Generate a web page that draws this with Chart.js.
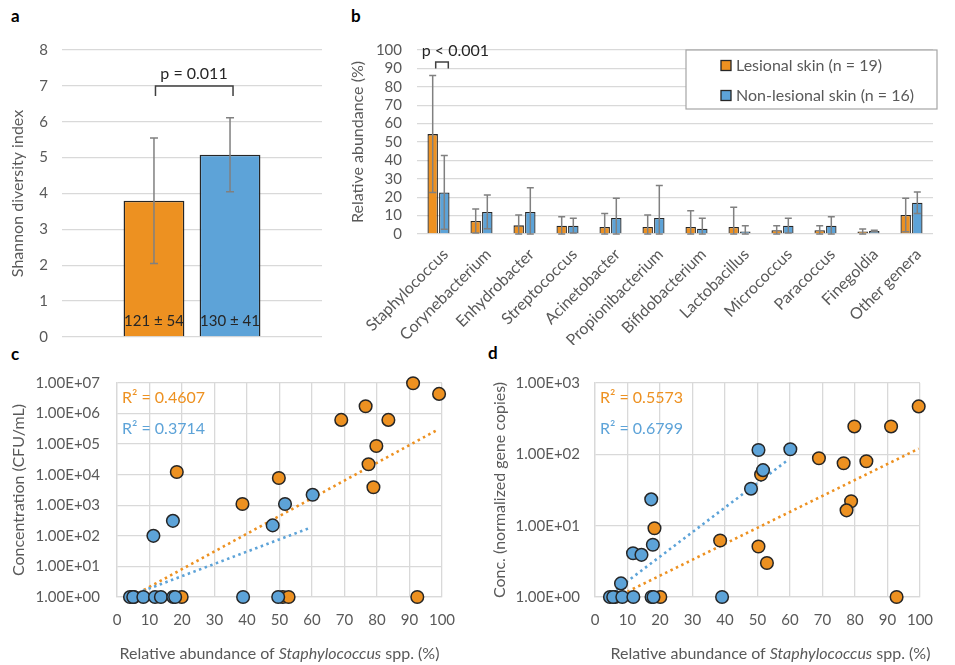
<!DOCTYPE html>
<html>
<head>
<meta charset="utf-8">
<script src="https://cdn.jsdelivr.net/npm/chart.js@4.4.1/dist/chart.umd.min.js"></script>
<style>
body { margin: 0; background: #fff; width: 955px; height: 665px; position: relative; overflow: hidden; font-family: Lato, sans-serif; }
.panel { position: absolute; }
.tag { position: absolute; font-weight: bold; font-size: 17px; color: #000; }
</style>
</head>
<body>
<div class="tag" style="left:11px;top:5px">a</div>
<div class="tag" style="left:351px;top:5px">b</div>
<div class="tag" style="left:11px;top:343px">c</div>
<div class="tag" style="left:488px;top:342px">d</div>
<canvas class="panel" id="chartA" width="335" height="345" style="left:0;top:0"></canvas>
<canvas class="panel" id="chartB" width="615" height="345" style="left:340px;top:0"></canvas>
<canvas class="panel" id="chartC" width="480" height="320" style="left:0;top:345px"></canvas>
<canvas class="panel" id="chartD" width="475" height="320" style="left:480px;top:345px"></canvas>
<script>
// ---- data ----
var groups = ['Lesional skin (n = 19)', 'Non-lesional skin (n = 16)'];
var orange = '#ED9121';
var blue = '#5DA3D8';

// panel a: Shannon diversity
var shannonMean = [3.80, 5.08];
var shannonSD = [1.75, 1.03];
var shannonNote = ['121 \u00b1 54', '130 \u00b1 41'];

// panel b: relative abundance per genus
var genera = ['Staphylococcus', 'Corynebacterium', 'Enhydrobacter', 'Streptococcus', 'Acinetobacter',
  'Propionibacterium', 'Bifidobacterium', 'Lactobacillus', 'Micrococcus', 'Paracoccus', 'Finegoldia', 'Other genera'];
var lesionalAbund = [54.3, 7.1, 4.7, 4.5, 3.8, 3.8, 3.8, 3.8, 2.0, 2.0, 1.3, 10.3];
var lesionalSD = [31.8, 6.5, 5.6, 4.9, 7.3, 6.5, 8.9, 10.7, 2.5, 2.5, 1.4, 9.1];
var nonLesionalAbund = [22.6, 12.0, 12.0, 4.5, 8.7, 8.7, 2.9, 1.3, 4.5, 4.5, 1.6, 17.0];
var nonLesionalSD = [20.0, 9.2, 13.2, 4.0, 10.7, 17.6, 5.6, 3.2, 4.0, 4.9, 0.4, 5.8];

// panel c: CFU/mL vs Staphylococcus abundance
var cLesional = [
  {x: 91.1, y: 9.8e6}, {x: 99.1, y: 4.4e6}, {x: 76.5, y: 1.74e6}, {x: 69.0, y: 6.2e5}, {x: 83.5, y: 6.2e5},
  {x: 79.8, y: 8.7e4}, {x: 77.4, y: 2.2e4}, {x: 78.9, y: 3.9e3}, {x: 18.4, y: 1.23e4}, {x: 49.8, y: 7.8e3},
  {x: 38.6, y: 1.1e3}, {x: 5.2, y: 1}, {x: 19.9, y: 1}, {x: 51.0, y: 1}, {x: 52.8, y: 1}, {x: 92.4, y: 1}
];
var cNonLesional = [
  {x: 11.2, y: 100}, {x: 17.2, y: 310}, {x: 47.9, y: 220}, {x: 51.7, y: 1100}, {x: 60.2, y: 2200},
  {x: 4.0, y: 1}, {x: 5.0, y: 1}, {x: 8.1, y: 1}, {x: 11.7, y: 1}, {x: 13.5, y: 1},
  {x: 17.3, y: 1}, {x: 17.9, y: 1}, {x: 38.8, y: 1}, {x: 49.6, y: 1}
];
var cTrendLesional = [{x: 5.0, y: 1.1}, {x: 99.0, y: 3.1e5}];
var cTrendNonLesional = [{x: 4.5, y: 1.15}, {x: 59.1, y: 178}];
var cR2 = ['R\u00b2 = 0.4607', 'R\u00b2 = 0.3714'];
var cTicks = [1, 10, 100, 1e3, 1e4, 1e5, 1e6, 1e7];

// panel d: normalized gene copies vs Staphylococcus abundance
var dLesional = [
  {x: 99.6, y: 470}, {x: 79.8, y: 246}, {x: 91.1, y: 246}, {x: 68.9, y: 88}, {x: 76.5, y: 75},
  {x: 83.5, y: 80}, {x: 51.1, y: 52}, {x: 78.8, y: 22}, {x: 77.4, y: 16.4}, {x: 18.3, y: 9.2},
  {x: 38.5, y: 6.2}, {x: 50.3, y: 5.1}, {x: 52.9, y: 3.0}, {x: 6.2, y: 1}, {x: 20.1, y: 1}, {x: 92.8, y: 1}
];
var dNonLesional = [
  {x: 60.1, y: 118}, {x: 50.3, y: 115}, {x: 51.7, y: 60}, {x: 48.0, y: 33}, {x: 17.3, y: 23.4},
  {x: 17.8, y: 5.4}, {x: 11.7, y: 4.1}, {x: 14.3, y: 3.9}, {x: 8.0, y: 1.55},
  {x: 4.6, y: 1}, {x: 5.6, y: 1}, {x: 8.4, y: 1}, {x: 11.8, y: 1}, {x: 17.4, y: 1}, {x: 18.0, y: 1}, {x: 39.1, y: 1}
];
var dTrendLesional = [{x: 5.0, y: 0.92}, {x: 99.6, y: 120}];
var dTrendNonLesional = [{x: 5.1, y: 1.13}, {x: 59.0, y: 81}];
var dR2 = ['R\u00b2 = 0.5573', 'R\u00b2 = 0.6799'];
var dTicks = [1, 10, 100, 1e3];

var xTitleParts = [['Relative abundance of ', 'normal'], ['Staphylococcus', 'italic'], [' spp. (%)', 'normal']];

// ---- shared setup ----
Chart.defaults.font.family = 'Lato, sans-serif';
Chart.defaults.color = '#595959';
Chart.defaults.animation = false;
Chart.defaults.responsive = false;
Chart.defaults.plugins.legend.display = false;
Chart.defaults.plugins.tooltip.enabled = false;

var gridColor = '#d9d9d9';
var edge = '#262626';

var errorBars = {
  id: 'errorBars',
  afterDatasetsDraw: function(chart) {
    var ctx = chart.ctx, y = chart.scales.y;
    chart.data.datasets.forEach(function(ds, i) {
      if (!ds.sd) return;
      chart.getDatasetMeta(i).data.forEach(function(bar, j) {
        var v = ds.data[j], e = ds.sd[j];
        var top = y.getPixelForValue(v + e);
        var bot = y.getPixelForValue(Math.max(0, v - e));
        var cap = ds.cap;
        ctx.save();
        ctx.strokeStyle = '#808080';
        ctx.lineWidth = 1.5;
        ctx.beginPath();
        ctx.moveTo(bar.x, top); ctx.lineTo(bar.x, bot);
        ctx.moveTo(bar.x - cap, top); ctx.lineTo(bar.x + cap, top);
        ctx.moveTo(bar.x - cap, bot); ctx.lineTo(bar.x + cap, bot);
        ctx.stroke();
        ctx.restore();
      });
    });
  }
};

function bracket(ctx, x0, x1, yTop, yBot) {
  ctx.save();
  ctx.strokeStyle = '#404040';
  ctx.lineWidth = 1.5;
  ctx.beginPath();
  ctx.moveTo(x0, yBot); ctx.lineTo(x0, yTop); ctx.lineTo(x1, yTop); ctx.lineTo(x1, yBot);
  ctx.stroke();
  ctx.restore();
}

function fixWidth(w) {
  return function(s) { s.width = w; s.paddingTop = 0; s.paddingBottom = 0; };
}
function fixHeight(h) {
  return function(s) { s.height = h; s.paddingLeft = 0; s.paddingRight = 0; };
}

// ---- panel a ----
new Chart(document.getElementById('chartA'), {
  type: 'bar',
  data: {
    labels: [''],
    datasets: [
      { label: groups[0], data: [shannonMean[0]], sd: [shannonSD[0]], cap: 4, backgroundColor: orange, borderColor: edge, borderWidth: 1.5 },
      { label: groups[1], data: [shannonMean[1]], sd: [shannonSD[1]], cap: 4, backgroundColor: blue, borderColor: edge, borderWidth: 1.5 }
    ]
  },
  options: {
    layout: { padding: { left: 0, right: 13, top: 50, bottom: 8 } },
    datasets: { bar: { categoryPercentage: 0.585, barPercentage: 0.8 } },
    scales: {
      x: { display: false },
      y: {
        min: 0, max: 8,
        ticks: { stepSize: 1, padding: 14, font: { size: 15 } },
        grid: { color: gridColor, drawTicks: false, lineWidth: 1.3 },
        border: { display: false },
        title: { display: true, text: 'Shannon diversity index', font: { size: 16 }, padding: { top: 8 } },
        afterFit: fixWidth(62)
      }
    }
  },
  plugins: [errorBars, {
    id: 'notesA',
    afterDraw: function(chart) {
      var ctx = chart.ctx, y = chart.scales.y;
      var b0 = chart.getDatasetMeta(0).data[0], b1 = chart.getDatasetMeta(1).data[0];
      ctx.save();
      ctx.fillStyle = '#262626';
      ctx.font = '15px Lato, sans-serif';
      ctx.textAlign = 'center';
      ctx.textBaseline = 'middle';
      ctx.fillText(shannonNote[0], b0.x, y.getPixelForValue(0.45));
      ctx.fillText(shannonNote[1], b1.x, y.getPixelForValue(0.45));
      bracket(ctx, b0.x + 1.5, b1.x + 3, y.getPixelForValue(7.0), y.getPixelForValue(6.72));
      ctx.font = '16px Lato, sans-serif';
      ctx.fillText('p = 0.011', (b0.x + b1.x) / 2 + 2, y.getPixelForValue(7.33));
      ctx.restore();
    }
  }]
});

// ---- panel b ----
new Chart(document.getElementById('chartB'), {
  type: 'bar',
  data: {
    labels: genera,
    datasets: [
      { label: groups[0], data: lesionalAbund, sd: lesionalSD, cap: 3.5, backgroundColor: orange, borderColor: edge, borderWidth: 1.3 },
      { label: groups[1], data: nonLesionalAbund, sd: nonLesionalSD, cap: 3.5, backgroundColor: blue, borderColor: edge, borderWidth: 1.3 }
    ]
  },
  options: {
    layout: { padding: { left: 0, right: 22, top: 50, bottom: 0 } },
    datasets: { bar: { categoryPercentage: 0.54, barPercentage: 0.9 } },
    scales: {
      x: {
        grid: { display: false },
        border: { display: false },
        ticks: { autoSkip: false, maxRotation: 45, minRotation: 45, padding: 3, labelOffset: 7, font: { size: 16 } },
        afterFit: fixHeight(111)
      },
      y: {
        min: 0, max: 100,
        ticks: { stepSize: 10, autoSkip: false, padding: 15, font: { size: 15 } },
        grid: { color: gridColor, drawTicks: false, lineWidth: 1.3 },
        border: { display: false },
        title: { display: true, text: 'Relative abundance (%)', font: { size: 16 }, padding: { top: 8 } },
        afterFit: fixWidth(77)
      }
    }
  },
  plugins: [errorBars, {
    id: 'notesB',
    afterDraw: function(chart) {
      var ctx = chart.ctx, y = chart.scales.y;
      var b0 = chart.getDatasetMeta(0).data[0], b1 = chart.getDatasetMeta(1).data[0];
      ctx.save();
      bracket(ctx, b0.x + 3, b1.x + 4, y.getPixelForValue(93.5), y.getPixelForValue(90));
      ctx.fillStyle = '#262626';
      ctx.font = '16px Lato, sans-serif';
      ctx.textBaseline = 'middle';
      ctx.textAlign = 'left';
      ctx.fillText('p < 0.001', b0.x - 11, y.getPixelForValue(99.3));
      // legend box
      var ca = chart.chartArea;
      var bx = ca.right - 247, by = ca.top, bw = 251, bh = 59;
      ctx.fillStyle = '#fff';
      ctx.fillRect(bx, by, bw, bh);
      ctx.strokeStyle = '#a6a6a6';
      ctx.lineWidth = 1.2;
      ctx.strokeRect(bx, by, bw, bh);
      ctx.font = '16px Lato, sans-serif';
      chart.data.datasets.forEach(function(ds, i) {
        var cy = by + 15.5 + i * 30;
        ctx.fillStyle = ds.backgroundColor;
        ctx.fillRect(bx + 35, cy - 5, 10, 10);
        ctx.strokeStyle = edge;
        ctx.lineWidth = 1.3;
        ctx.strokeRect(bx + 35, cy - 5, 10, 10);
        ctx.fillStyle = '#595959';
        ctx.fillText(ds.label, bx + 50, cy);
      });
      ctx.restore();
    }
  }]
});

// ---- panels c and d ----
function sci(v) {
  return '1.00E+' + String(Math.round(Math.log10(v))).padStart(2, '0');
}

function scatterChart(id, lesional, nonLesional, trendL, trendN, r2, ticks, yTitle, opts) {
  return new Chart(document.getElementById(id), {
    type: 'scatter',
    data: {
      datasets: [
        { type: 'line', data: trendL, borderColor: orange, borderWidth: 2.6, borderDash: [2.5, 3.5], pointRadius: 0, order: 4 },
        { type: 'line', data: trendN, borderColor: blue, borderWidth: 2.6, borderDash: [2.5, 3.5], pointRadius: 0, order: 3 },
        { label: groups[0], data: lesional, backgroundColor: orange, borderColor: edge, borderWidth: 1.5, pointRadius: 6.3, order: 2, clip: false },
        { label: groups[1], data: nonLesional, backgroundColor: blue, borderColor: edge, borderWidth: 1.5, pointRadius: 6.3, order: 1, clip: false }
      ]
    },
    options: {
      layout: { padding: { left: 0, right: opts.right, top: 38, bottom: 28 } },
      scales: {
        x: {
          type: 'linear', min: 0, max: 100,
          ticks: { stepSize: 10, padding: 14, font: { size: 15 } },
          grid: { color: gridColor, drawTicks: false, lineWidth: 1.3 },
          border: { color: gridColor, width: 1.3 },
          afterFit: fixHeight(40)
        },
        y: {
          type: 'logarithmic', min: ticks[0], max: ticks[ticks.length - 1],
          afterBuildTicks: function(s) { s.ticks = ticks.map(function(v) { return { value: v }; }); },
          ticks: { padding: opts.tickPad, font: { size: 15 }, callback: function(v) { return sci(v); } },
          grid: { color: gridColor, drawTicks: false, lineWidth: 1.3 },
          border: { color: gridColor, width: 1.3 },
          title: { display: true, text: yTitle, font: { size: 16 }, padding: { top: opts.titlePad } },
          afterFit: fixWidth(opts.left)
        }
      }
    },
    plugins: [{
      id: 'notes' + id,
      afterDraw: function(chart) {
        var ctx = chart.ctx, ca = chart.chartArea;
        ctx.save();
        ctx.textBaseline = 'middle';
        ctx.textAlign = 'left';
        ctx.font = '16px Lato, sans-serif';
        ctx.fillStyle = orange;
        ctx.fillText(r2[0], ca.left + 5, ca.top + 15);
        ctx.fillStyle = blue;
        ctx.fillText(r2[1], ca.left + 5, ca.top + 46);
        // x title with italic genus name
        ctx.fillStyle = '#595959';
        var total = 0;
        xTitleParts.forEach(function(p) {
          ctx.font = p[1] + ' 16px Lato, sans-serif';
          total += ctx.measureText(p[0]).width;
        });
        var x = (ca.left + ca.right) / 2 + opts.shift - total / 2;
        xTitleParts.forEach(function(p) {
          ctx.font = p[1] + ' 16px Lato, sans-serif';
          ctx.fillText(p[0], x, 309);
          x += ctx.measureText(p[0]).width;
        });
        ctx.restore();
      }
    }]
  });
}

scatterChart('chartC', cLesional, cNonLesional, cTrendLesional, cTrendNonLesional, cR2, cTicks,
  'Concentration (CFU/mL)', { left: 117, right: 38, tickPad: 17, titlePad: 9, shift: 0 });
scatterChart('chartD', dLesional, dNonLesional, dTrendLesional, dTrendNonLesional, dR2, dTicks,
  'Conc. (normalized gene copies)', { left: 115, right: 35, tickPad: 15, titlePad: 10, shift: 13 });
</script>
</body>
</html>
